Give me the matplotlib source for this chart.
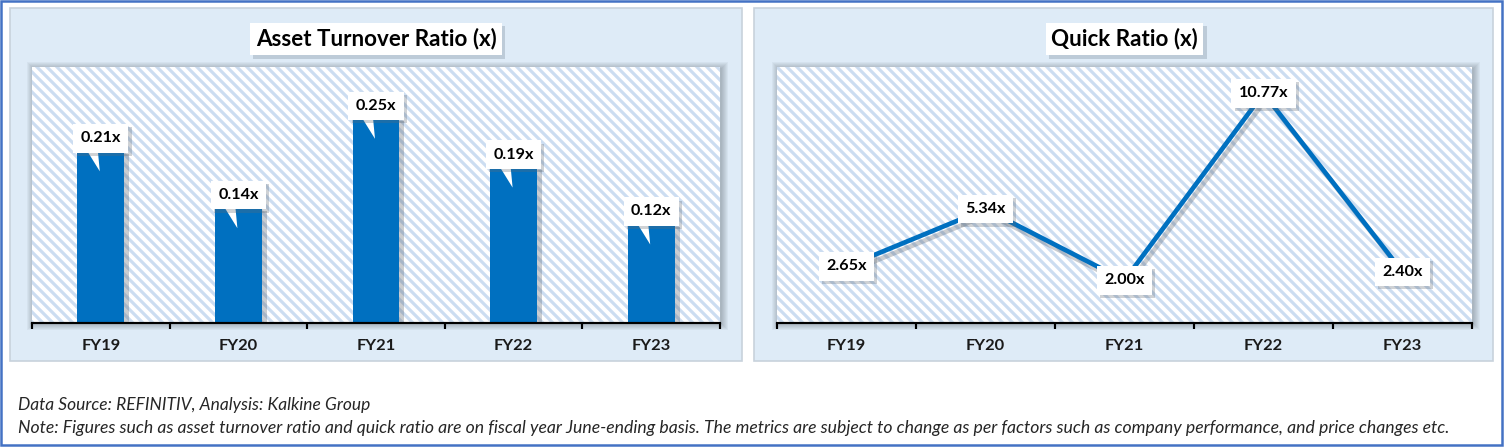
import matplotlib
matplotlib.use("Agg")
import matplotlib.pyplot as plt
import matplotlib.patheffects as pe
from matplotlib.patches import Rectangle, Polygon
import numpy as np

plt.rcParams['font.family'] = ['Lato', 'DejaVu Sans']
plt.rcParams['hatch.linewidth'] = 1.9

# data
years = ['FY19', 'FY20', 'FY21', 'FY22', 'FY23']
asset_turnover = [0.21, 0.14, 0.25, 0.19, 0.12]
quick_ratio = [2.65, 5.34, 2.00, 10.77, 2.40]

W, H, DPI = 1504, 447, 120
BLUE = '#0070C0'
PANEL = '#DEEBF7'
HATCH = '#CCDDF1'

fig = plt.figure(figsize=(W / DPI, H / DPI), dpi=DPI)
fig.patch.set_facecolor('white')


def frac(x0, y0, x1, y1):
    # pixel box (top-left origin) -> figure fraction rect
    return [x0 / W, 1 - y1 / H, (x1 - x0) / W, (y1 - y0) / H]


def fig_rect(x0, y0, x1, y1, **kw):
    l, b, w, h = frac(x0, y0, x1, y1)
    r = Rectangle((l, b), w, h, transform=fig.transFigure, **kw)
    fig.add_artist(r)
    return r


# outer border and the two panels
fig_rect(1, 1, W - 2, H - 2, facecolor='none', edgecolor='#4472C4', lw=1.5, zorder=0)
fig_rect(10, 8, 742, 361, facecolor=PANEL, edgecolor='#C8D2DC', lw=1, zorder=0)
fig_rect(754, 8, 1493, 361, facecolor=PANEL, edgecolor='#C8D2DC', lw=1, zorder=0)

plot_boxes = [(32, 67, 720, 323), (777, 67, 1472, 323)]

# soft glow shadow round the plot areas
for (x0, y0, x1, y1) in plot_boxes:
    for k in range(1, 8):
        fig_rect(x0 - k + 2, y0 - k + 2, x1 + k + 1, y1 + k,
                 facecolor='#404850', edgecolor='none', alpha=0.05, zorder=0.5)

axes = [fig.add_axes(frac(*b)) for b in plot_boxes]

for ax in axes:
    ax.set_zorder(2)
    ax.set_facecolor('white')
    ax.add_patch(Rectangle((0, 0), 1, 1, transform=ax.transAxes, facecolor='white',
                           edgecolor=HATCH, hatch='\\\\\\\\', lw=0, zorder=0))
    for s in ['top', 'left', 'right']:
        ax.spines[s].set_visible(False)
    ax.spines['bottom'].set_linewidth(1.3)
    ax.spines['bottom'].set_color('black')
    ax.set_xlim(-0.5, len(years) - 0.5)
    ax.set_yticks([])
    ax.set_xticks(np.arange(-0.5, len(years), 1))
    ax.set_xticklabels([])
    ax.tick_params(axis='x', which='major', direction='out', length=3.5, width=1.3, color='black')
    ax.set_xticks(np.arange(len(years)), minor=True)
    ax.set_xticklabels(years, minor=True, fontsize=9.9, fontweight='bold', color='#1a1a1a')
    ax.tick_params(axis='x', which='minor', length=0, pad=9.5)

# titles
titles = ['Asset Turnover Ratio (x)', 'Quick Ratio (x)']
for (x0, y0, x1, y1), t in zip(plot_boxes, titles):
    cx = (x0 + x1) / 2 / W
    txt = fig.text(cx, 1 - 39 / H, t, ha='center', va='center', fontsize=13.4,
                   fontweight='bold', color='black', zorder=5,
                   bbox=dict(boxstyle='square,pad=0.25', facecolor='white', edgecolor='none'))
    txt.get_bbox_patch().set_path_effects([
        pe.SimplePatchShadow(offset=(2, -2), shadow_rgbFace='#8090a0', alpha=0.35), pe.Normal()])

label_box = dict(boxstyle='square,pad=0.45', facecolor='white', edgecolor='none')

# left: bar chart
ax1 = axes[0]
ax1.set_ylim(0, 0.315)
x = np.arange(len(years))
ax1.bar(x, asset_turnover, width=0.34, color=BLUE, zorder=2,
        path_effects=[pe.SimplePatchShadow(offset=(3, -1), shadow_rgbFace='#505a66', alpha=0.3),
                      pe.Normal()])
fig.canvas.draw()
for i, v in enumerate(asset_turnover):
    cx, top = ax1.transData.transform((i, v))
    s = 72 / DPI
    # callout pointer (pixel offsets from bar top)
    ptr = Polygon([(cx - 14, top + 2), (cx - 3, top + 2), (cx - 1, top - 19)],
                  closed=True, transform=None, facecolor='white', edgecolor='none', zorder=4)
    ax1.add_artist(ptr)
    t = ax1.annotate(f'{v:.2f}x', xy=(i, v), xytext=(0, 14 * s), textcoords='offset points',
                     ha='center', va='center', fontsize=9.7, fontweight='bold', color='black',
                     zorder=5, bbox=label_box)
    t.get_bbox_patch().set_path_effects([
        pe.SimplePatchShadow(offset=(2, -2), shadow_rgbFace='#606a74', alpha=0.3), pe.Normal()])

# right: line chart
ax2 = axes[1]
ax2.set_ylim(0, 12)
ax2.plot(x, quick_ratio, color=BLUE, lw=2.8, zorder=3, solid_capstyle='butt',
         path_effects=[pe.SimpleLineShadow(offset=(2, -3), shadow_color='#505a66', alpha=0.3),
                       pe.Normal()])
for i, v in enumerate(quick_ratio):
    t = ax2.annotate(f'{v:.2f}x', xy=(i, v), ha='center', va='center', fontsize=9.7,
                     fontweight='bold', color='black', zorder=5, bbox=label_box)
    t.get_bbox_patch().set_path_effects([
        pe.SimplePatchShadow(offset=(2, -2), shadow_rgbFace='#606a74', alpha=0.3), pe.Normal()])

# footnotes
fig.text(18 / W, 1 - 405 / H, 'Data Source: REFINITIV, Analysis: Kalkine Group',
         ha='left', va='center', fontsize=10.4, style='italic', color='#262626')
fig.text(18 / W, 1 - 428 / H,
         'Note: Figures such as asset turnover ratio and quick ratio are on fiscal year June-ending basis. '
         'The metrics are subject to change as per factors such as company performance, and price changes etc.',
         ha='left', va='center', fontsize=10.6, style='italic', color='#262626')

fig.savefig('out.png', dpi=DPI, facecolor='white')
